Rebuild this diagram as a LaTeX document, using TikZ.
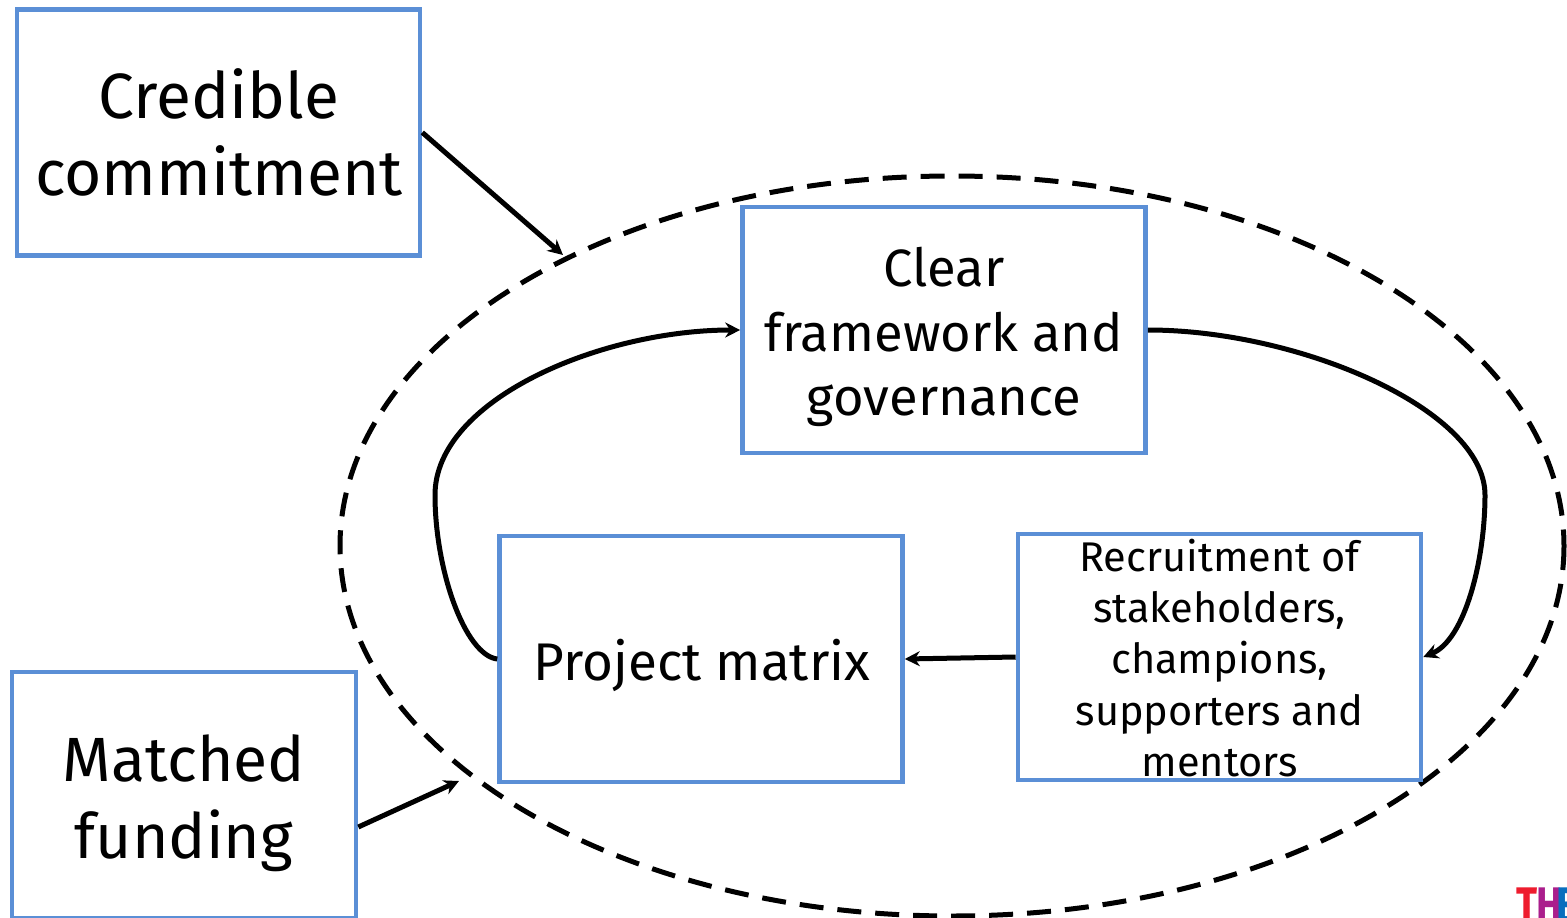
\documentclass[tikz,border=0pt]{standalone}
\usepackage{fontspec}
\setmainfont{Fira Sans}
\usetikzlibrary{arrows.meta}
\begin{document}
\begin{tikzpicture}[x=1pt,y=-1pt,
  bx/.style={draw=boxblue,line width=4.6pt,align=center,inner sep=0pt,line join=miter},
  con/.style={draw=black,line width=5pt,-{Stealth[length=15pt,width=15pt]}},
  lbl/.style={align=center,inner sep=0pt},
  logo/.style={inner sep=0pt,anchor=north west,font=\fontsize{50}{50}\selectfont\bfseries,xscale=.78}]
\definecolor{boxblue}{HTML}{5B8FD6}
\definecolor{logored}{HTML}{EE1C2E}
\definecolor{logopurple}{HTML}{AA1E8C}
\definecolor{logoblue}{HTML}{0A6EBD}
\useasboundingbox (0,0) rectangle (1567,918);
\fill[white] (0,0) rectangle (1567,918);
\draw[black,line width=5pt,dash pattern=on 24pt off 14pt] (952,546) ellipse [x radius=612,y radius=370];
\node[bx,minimum width=403pt,minimum height=246pt] (cc) at (218.5,132.5) {};
\node[lbl,font=\fontsize{64}{77}\selectfont] (cct) at (219,132) {Credible\\commitment};
\node[bx,minimum width=344pt,minimum height=246pt] (mf) at (184,795) {};
\node[lbl,font=\fontsize{62.5}{77}\selectfont] (mft) at (184,803) {Matched\\funding};
\node[bx,minimum width=403pt,minimum height=246pt] (cf) at (944,330) {};
\node[lbl,font=\fontsize{52.5}{64.5}\selectfont] (cft) at (944,337) {Clear\\framework and\\governance};
\node[bx,minimum width=403pt,minimum height=246pt] (pm) at (701,659) {};
\node[lbl,font=\fontsize{53}{64}\selectfont] (pmt) at (702,665) {Project matrix};
\node[bx,minimum width=403pt,minimum height=246pt] (rs) at (1219.5,657) {};
\node[lbl,font=\fontsize{41.5}{51.2}\selectfont] (rst) at (1219.5,658) {Recruitment of\\stakeholders,\\champions,\\supporters and\\mentors};
\coordinate (e1) at (563,255);
\coordinate (e2) at (459,781);
\draw[con] (cc.east) -- (e1);
\draw[con] (mf.east) ++(0,32) -- (e2);
\draw[con] (rs.west) -- (pm.east);
\draw[con] (cf.east) .. controls (1300,330) and (1485,410) .. (1485,495) .. controls (1485,560) and (1465,640) .. (rs.east);
\draw[con] (pm.west) .. controls (465,655) and (435,570) .. (435,495) .. controls (435,400) and (600,330) .. (cf.west);
\node[logo,text=logored] (l1) at (1516,888) {T};
\node[logo,text=logopurple] (l2) at (1536,888) {H};
\node[logo,text=logoblue] (l3) at (1556,888) {E};
\end{tikzpicture}
\end{document}
